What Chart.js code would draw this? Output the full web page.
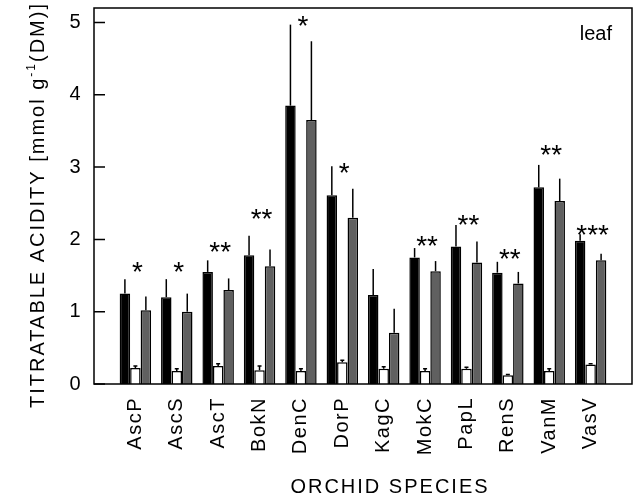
<!DOCTYPE html>
<html>
<head>
<meta charset="utf-8">
<script src="https://cdn.jsdelivr.net/npm/chart.js@4.4.1/dist/chart.umd.min.js"></script>
<style>
  html, body { margin: 0; padding: 0; background: #fff; }
</style>
</head>
<body>
<canvas id="acidChart" width="637" height="501"></canvas>
<script>
// orchid species along the x axis
const species = ["AscP", "AscS", "AscT", "BokN", "DenC", "DorP", "KagC", "MokC", "PapL", "RenS", "VanM", "VasV"];

// mean titratable acidity, mmol g-1 (DM)
const blackValues = [1.25, 1.20, 1.55, 1.78, 3.85, 2.61, 1.23, 1.75, 1.90, 1.54, 2.72, 1.98];
const whiteValues = [0.22, 0.18, 0.25, 0.19, 0.18, 0.30, 0.21, 0.18, 0.21, 0.12, 0.18, 0.27];
const grayValues  = [1.02, 1.00, 1.30, 1.63, 3.65, 2.30, 0.71, 1.56, 1.68, 1.39, 2.53, 1.71];

// upper error (SE)
const blackErrors = [0.20, 0.25, 0.16, 0.27, 1.12, 0.40, 0.36, 0.13, 0.30, 0.15, 0.31, 0.09];
const whiteErrors = [0.03, 0.03, 0.03, 0.06, 0.03, 0.03, 0.03, 0.03, 0.02, 0.01, 0.03, 0.01];
const grayErrors  = [0.19, 0.25, 0.16, 0.23, 1.09, 0.40, 0.33, 0.14, 0.29, 0.16, 0.31, 0.09];

// significance marks and the level they sit at
const starLabels = ["*", "*", "**", "**", "*", "*", "", "**", "**", "**", "**", "***"];
const starLevels = [1.64, 1.64, 1.92, 2.38, 5.05, 3.02, null, 2.00, 2.29, 1.82, 3.26, 2.16];

const yTicks = [0, 1, 2, 3, 4, 5];

const FONT = '"Liberation Sans", Arial, sans-serif';

function toPoints(values) {
  return values.map((v, i) => ({ x: i + 1, y: v }));
}

const errorBars = {
  id: "errorBars",
  afterDatasetsDraw(chart) {
    const ctx = chart.ctx;
    const yScale = chart.scales.y;
    ctx.save();
    ctx.strokeStyle = "#000";
    ctx.lineWidth = 1.5;
    chart.data.datasets.forEach((ds, d) => {
      const meta = chart.getDatasetMeta(d);
      meta.data.forEach((bar, i) => {
        const top = yScale.getPixelForValue(ds.data[i].y + ds.errors[i]);
        ctx.beginPath();
        ctx.moveTo(bar.x, bar.y);
        ctx.lineTo(bar.x, top);
        if (ds.cap) {
          ctx.moveTo(bar.x - 2, top);
          ctx.lineTo(bar.x + 2, top);
        }
        ctx.stroke();
      });
    });
    ctx.restore();
  }
};

const frameAndText = {
  id: "frameAndText",
  beforeDraw(chart) {
    chart.ctx.letterSpacing = "1.5px";
  },
  afterDraw(chart) {
    const ctx = chart.ctx;
    const a = chart.chartArea;
    const xScale = chart.scales.x;
    const yScale = chart.scales.y;
    ctx.save();

    // box
    ctx.strokeStyle = "#000";
    ctx.lineWidth = 1.5;
    ctx.strokeRect(a.left, a.top, a.right - a.left, a.bottom - a.top);

    // inward ticks
    ctx.beginPath();
    yTicks.forEach(v => {
      const y = yScale.getPixelForValue(v);
      ctx.moveTo(a.left, y);
      ctx.lineTo(a.left + 11, y);
    });
    ctx.stroke();

    ctx.fillStyle = "#000";

    // significance stars
    ctx.letterSpacing = "0px";
    ctx.font = "28px " + FONT;
    ctx.textAlign = "center";
    ctx.textBaseline = "alphabetic";
    starLabels.forEach((s, i) => {
      if (!s) return;
      const x = xScale.getPixelForValue(i + 1) + 2;
      const y = yScale.getPixelForValue(starLevels[i]) + 16;
      ctx.fillText(s, x, y);
    });

    // panel label
    ctx.font = "20px " + FONT;
    ctx.textAlign = "right";
    ctx.fillText("leaf", a.right - 20, 40);

    // x title
    ctx.letterSpacing = "2px";
    ctx.textAlign = "center";
    ctx.fillText("ORCHID SPECIES", 390, 493);

    // y title with superscript
    const parts = [
      { t: "TITRATABLE ACIDITY [mmol g", size: 20, rise: 0 },
      { t: "-1", size: 12, rise: 9 },
      { t: "(DM)]", size: 20, rise: 0 }
    ];
    ctx.textAlign = "left";
    let total = 0;
    parts.forEach(p => {
      ctx.font = p.size + "px " + FONT;
      p.w = ctx.measureText(p.t).width;
      total += p.w;
    });
    ctx.translate(37, 205);
    ctx.rotate(-Math.PI / 2);
    let x = -total / 2;
    parts.forEach(p => {
      ctx.font = p.size + "px " + FONT;
      ctx.fillText(p.t, x, 7 - p.rise);
      x += p.w;
    });
    ctx.restore();
  }
};

new Chart(document.getElementById("acidChart"), {
  type: "bar",
  data: {
    datasets: [
      {
        label: "series 1",
        data: toPoints(blackValues),
        errors: blackErrors,
        backgroundColor: "#000",
        borderColor: "#000",
        borderWidth: 1.5
      },
      {
        label: "series 2",
        data: toPoints(whiteValues),
        errors: whiteErrors,
        cap: true,
        backgroundColor: "#fff",
        borderColor: "#000",
        borderWidth: 1.5
      },
      {
        label: "series 3",
        data: toPoints(grayValues),
        errors: grayErrors,
        backgroundColor: "#606060",
        borderColor: "#000",
        borderWidth: 1.5
      }
    ]
  },
  options: {
    responsive: false,
    animation: false,
    layout: { padding: { top: 8, right: 5, left: 0, bottom: 0 } },
    datasets: { bar: { categoryPercentage: 0.76, barPercentage: 1.0 } },
    plugins: {
      legend: { display: false },
      tooltip: { enabled: false }
    },
    scales: {
      x: {
        type: "linear",
        min: 0,
        max: 13,
        offset: false,
        grid: { display: false, drawTicks: false },
        border: { display: false },
        afterFit(scale) {
          scale.height = 117;
          scale.paddingLeft = 0;
          scale.paddingRight = 0;
        },
        ticks: {
          stepSize: 1,
          autoSkip: false,
          minRotation: 90,
          maxRotation: 90,
          padding: 13,
          color: "#000",
          font: { family: FONT, size: 20 },
          callback: v => species[v - 1] || ""
        }
      },
      y: {
        min: 0,
        max: 5.2,
        grid: { display: false, drawTicks: false },
        border: { display: false },
        afterFit(scale) {
          scale.width = 94;
          scale.paddingTop = 0;
          scale.paddingBottom = 0;
        },
        afterBuildTicks(scale) { scale.ticks = yTicks.map(v => ({ value: v })); },
        ticks: {
          padding: 12,
          color: "#000",
          font: { family: FONT, size: 20 }
        }
      }
    }
  },
  plugins: [errorBars, frameAndText]
});
</script>
</body>
</html>
